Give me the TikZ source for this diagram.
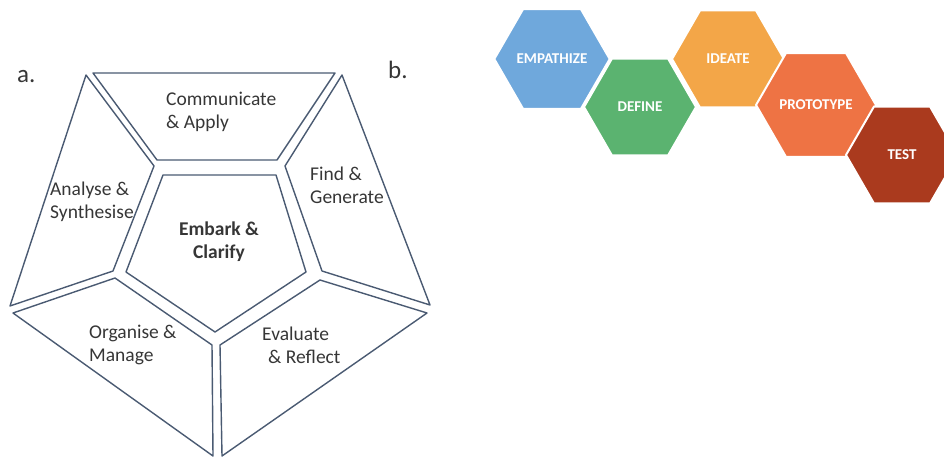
\documentclass[tikz,border=0pt]{standalone}
\usepackage{fontspec}
\setmainfont{Carlito}
\usepackage{xcolor}
\usetikzlibrary{shapes.geometric}

\definecolor{frame}{HTML}{4A5A72}
\definecolor{txtgray}{HTML}{363636}
\definecolor{empblue}{HTML}{6FA8DC}
\definecolor{defgreen}{HTML}{5BB370}
\definecolor{ideorange}{HTML}{F3A648}
\definecolor{protored}{HTML}{EE7344}
\definecolor{testred}{HTML}{AA3A1E}

\begin{document}
\begin{tikzpicture}[x=1pt, y=-1pt,
  cell/.style={draw=frame, line width=1.4pt, line join=round},
  lab/.style={font=\fontsize{19.5}{23}\selectfont, text=txtgray, align=left,
    anchor=north west, inner sep=0pt},
  hexa/.style={regular polygon, regular polygon sides=6, minimum size=112pt,
    inner sep=0pt, draw=white, line width=2pt, text=white,
    font=\fontsize{15}{17}\selectfont\bfseries}]
  \useasboundingbox (0,0) rectangle (944,457);
  \clip (0,0) rectangle (944,457);

  % panel letters
  \node[anchor=base west, inner sep=0pt, text=txtgray,
    font=\fontsize{25}{28}\selectfont] (pa) at (17,83) {a.};
  \node[anchor=base west, inner sep=0pt, text=txtgray,
    font=\fontsize{25}{28}\selectfont] (pb) at (388,79) {b.};

  % Left: pentagon of cells
  \draw[cell] (93,73) -- (335,73) -- (277,160) -- (157,160) -- cycle;     % top
  \draw[cell] (86,75) -- (154,166) -- (113,271) -- (10,306) -- cycle;     % left
  \draw[cell] (342,75) -- (430,305) -- (322,271) -- (285,166) -- cycle;   % right
  \draw[cell] (163,175) -- (276,175) -- (306,272) -- (215,332)
    -- (126,272) -- cycle;                                                % centre
  \draw[cell] (13,313) -- (115,278) -- (212,345) -- (213,456) -- cycle;   % bottom left
  \draw[cell] (220,345) -- (320,280) -- (427,313) -- (222,456) -- cycle;  % bottom right

  \node[lab] (comm) at (166,92) {Communicate\\\& Apply};
  \node[lab] (anal) at (50,182) {Analyse \&\\Synthesise};
  \node[lab] (find) at (310,167) {Find \&\\Generate};
  \node[lab, align=center, anchor=north, font=\fontsize{19.5}{23}\selectfont\bfseries]
    (embark) at (219,222) {Embark \&\\Clarify};
  \node[lab] (organ) at (89,325) {Organise \&\\Manage};
  \node[lab] (evalu) at (262,327) {Evaluate\\\hspace*{6pt}\& Reflect};

  % Right: design thinking hexagons
  \node[hexa, fill=empblue]   (emp)   at (552,59)  {EMPATHIZE};
  \node[hexa, fill=defgreen]  (def)   at (640,107) {DEFINE};
  \node[hexa, fill=ideorange] (idea)  at (728,59)  {IDEATE};
  \node[hexa, fill=protored]  (proto) at (816,105) {PROTOTYPE};
  \node[hexa, fill=testred]   (test)  at (902,155) {TEST};
\end{tikzpicture}
\end{document}
